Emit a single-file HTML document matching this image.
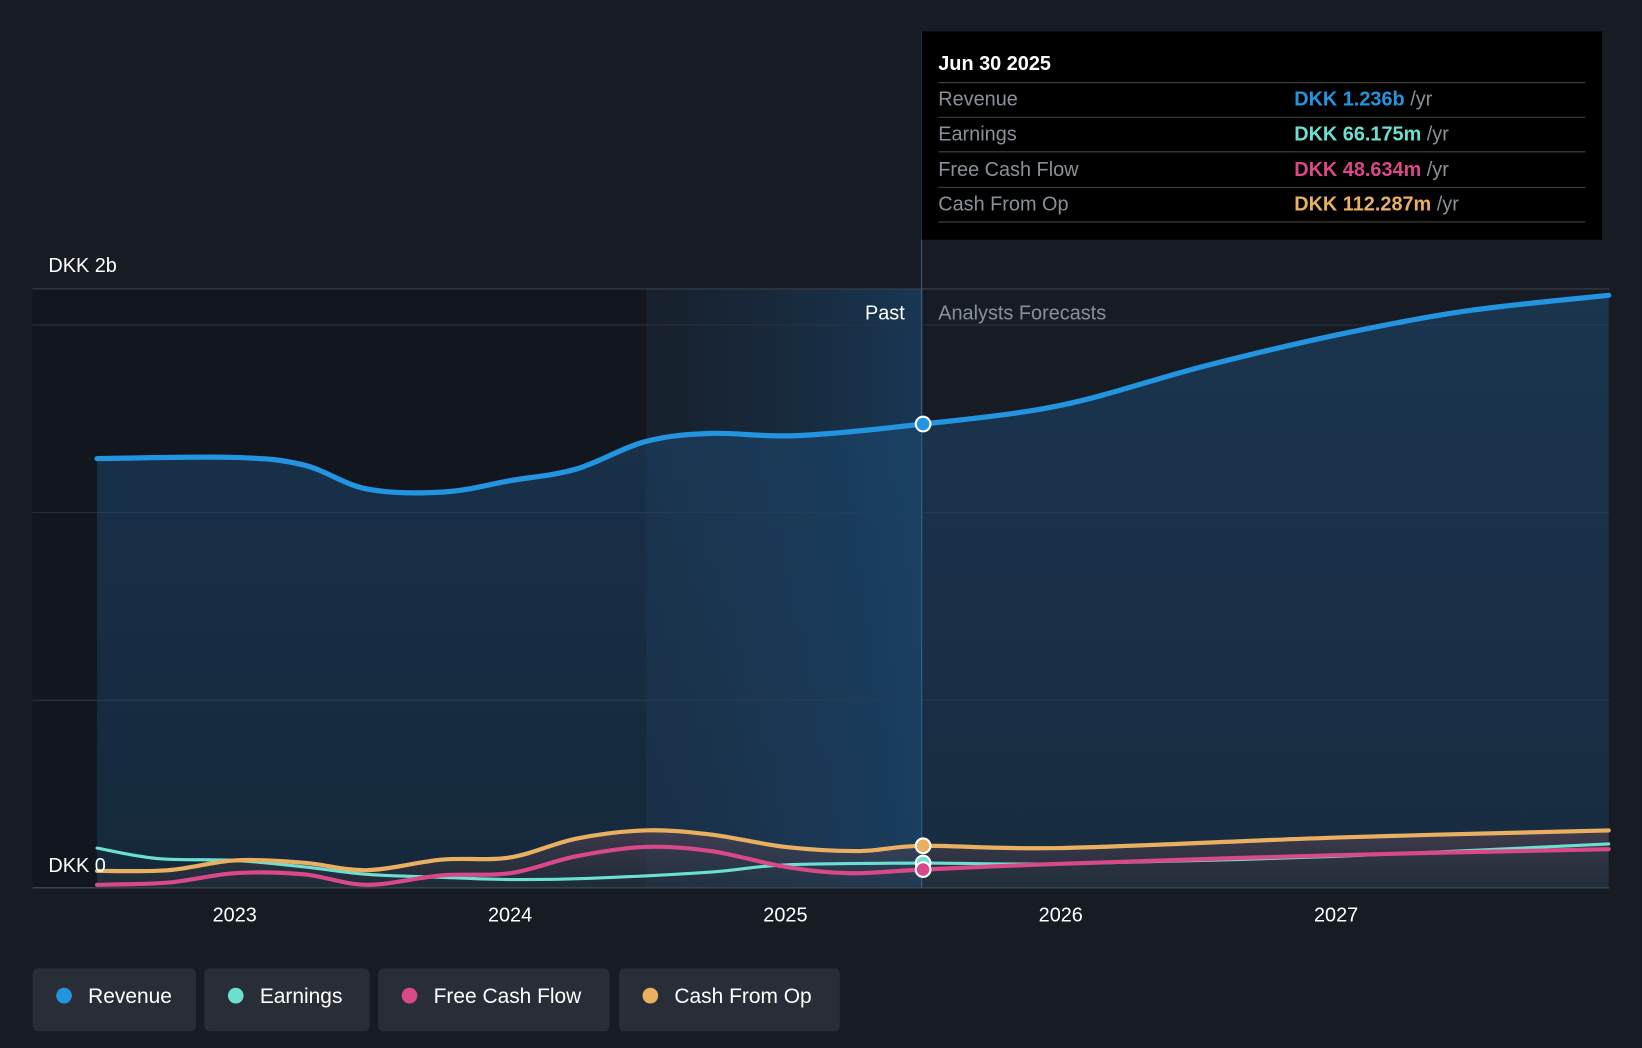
<!DOCTYPE html>
<html><head><meta charset="utf-8"><style>
html,body{margin:0;padding:0;background:#161b24;}
svg{display:block;font-family:"Liberation Sans",sans-serif;}
</style></head><body>
<svg id="chart" width="1642" height="1048" viewBox="0 0 1568 1001">
<defs>
<linearGradient id="revFill" x1="0" y1="0" x2="0" y2="1"><stop offset="0" stop-color="#1d4a72" stop-opacity="0.55"/><stop offset="1" stop-color="#1d4a72" stop-opacity="0.35"/></linearGradient>
<linearGradient id="pastHi" x1="0" y1="0" x2="1" y2="0"><stop offset="0" stop-color="#1a3550" stop-opacity="0.2"/><stop offset="1" stop-color="#1a4a75" stop-opacity="0.6"/></linearGradient>
<linearGradient id="lowFill" x1="0" y1="0" x2="0" y2="1"><stop offset="0" stop-color="#6a4a5a" stop-opacity="0.5"/><stop offset="1" stop-color="#333" stop-opacity="0.3"/></linearGradient>
</defs>
<rect width="1568" height="1001" fill="#161b24"/>
<rect x="31" y="276" width="586" height="572" fill="#12161e"/>
<rect x="617" y="276" width="264" height="572" fill="url(#pastHi)"/>
<g id="grid"></g>
<g id="areas"></g>
<g id="lines"></g>
<line x1="880" y1="30" x2="880" y2="848" stroke="#3a5a78" stroke-width="1"/>
<text x="864" y="305" fill="#fff" font-size="19" text-anchor="end">Past</text>
<text x="896" y="305" fill="#8a9099" font-size="19">Analysts Forecasts</text>
<text x="46" y="260" fill="#fff" font-size="19">DKK 2b</text>
<text x="46" y="833" fill="#fff" font-size="19">DKK 0</text>
<g id="xticks"></g>
<g id="dots"></g>
<g>
<rect x="880" y="30" width="650" height="199" fill="#000"/>
<text x="896" y="67" fill="#fff" font-size="19" font-weight="bold">Jun 30 2025</text>
<line x1="896" y1="79" x2="1514" y2="79" stroke="#444"/>
<text x="896" y="101" fill="#8a9099" font-size="19">Revenue</text>
<text x="1236" y="101" font-size="19"><tspan fill="#2394df" font-weight="bold">DKK 1.236b</tspan><tspan fill="#8a9099"> /yr</tspan></text>
<line x1="896" y1="112" x2="1514" y2="112" stroke="#444"/>
<text x="896" y="134" fill="#8a9099" font-size="19">Earnings</text>
<text x="1236" y="134" font-size="19"><tspan fill="#6be0d0" font-weight="bold">DKK 66.175m</tspan><tspan fill="#8a9099"> /yr</tspan></text>
<line x1="896" y1="145" x2="1514" y2="145" stroke="#444"/>
<text x="896" y="168" fill="#8a9099" font-size="19">Free Cash Flow</text>
<text x="1236" y="168" font-size="19"><tspan fill="#d9498a" font-weight="bold">DKK 48.634m</tspan><tspan fill="#8a9099"> /yr</tspan></text>
<line x1="896" y1="179" x2="1514" y2="179" stroke="#444"/>
<text x="896" y="201" fill="#8a9099" font-size="19">Cash From Op</text>
<text x="1236" y="201" font-size="19"><tspan fill="#e8b060" font-weight="bold">DKK 112.287m</tspan><tspan fill="#8a9099"> /yr</tspan></text>
<line x1="896" y1="212" x2="1514" y2="212" stroke="#444"/>
</g>
<g id="legend"></g>
</svg>
<script>
const revYears=[2022.5,2023,2023.25,2023.48,2023.76,2024,2024.24,2024.49,2024.73,2025.04,2025.5,2026,2026.52,2027,2027.47,2027.99];
const revVals=[1.144,1.147,1.127,1.063,1.055,1.085,1.116,1.189,1.211,1.205,1.236,1.286,1.39,1.473,1.537,1.579];
const earnYears=[2022.5,2022.72,2023,2023.25,2023.48,2023.75,2024,2024.28,2024.73,2025,2025.5,2026,2027,2027.99];
const earnVals=[0.106,0.078,0.073,0.056,0.036,0.028,0.022,0.025,0.042,0.061,0.066,0.064,0.084,0.117];
const fcfYears=[2022.5,2022.76,2023,2023.25,2023.48,2023.75,2024,2024.24,2024.49,2024.73,2025,2025.23,2025.5,2026,2027,2027.99];
const fcfVals=[0.008,0.014,0.039,0.036,0.008,0.033,0.039,0.084,0.109,0.098,0.056,0.039,0.0486,0.064,0.087,0.103];
const cfoYears=[2022.5,2022.76,2023,2023.25,2023.48,2023.75,2024,2024.24,2024.49,2024.73,2025,2025.27,2025.5,2026,2027,2027.99];
const cfoVals=[0.045,0.047,0.073,0.067,0.047,0.075,0.081,0.131,0.153,0.142,0.109,0.098,0.112,0.106,0.134,0.153];
const xTicks=[2023,2024,2025,2026,2027];
const gridVals=[0.5,1,1.5];
const NS='http://www.w3.org/2000/svg';
const X=y=>224+(y-2023)*263;
const Y=v=>848-v*358.4;
function el(t,a,p){const e=document.createElementNS(NS,t);for(const k in a)e.setAttribute(k,a[k]);document.getElementById(p).appendChild(e);return e;}
function path(xs,vs){const p=xs.map((x,i)=>[X(x),Y(vs[i])]);let d='M'+p[0][0]+','+p[0][1];
for(let i=0;i<p.length-1;i++){const p0=p[i-1]||p[i],p1=p[i],p2=p[i+1],p3=p[i+2]||p2;
d+=' C'+(p1[0]+(p2[0]-p0[0])/6)+','+(p1[1]+(p2[1]-p0[1])/6)+' '+(p2[0]-(p3[0]-p1[0])/6)+','+(p2[1]-(p3[1]-p1[1])/6)+' '+p2[0]+','+p2[1];}return d;}
el('line',{x1:31,y1:276,x2:1537,y2:276,stroke:'#3a3f48'},'grid');
gridVals.forEach(v=>{const g=el('line',{x1:31,y1:Y(v),x2:1537,y2:Y(v),stroke:'#2c323c'},'grid');

});
el('line',{x1:31,y1:848,x2:1537,y2:848,stroke:'#4a505a'},'grid');
xTicks.forEach(t=>{const tx=el('text',{x:X(t),y:880,fill:'#fff','font-size':19,'text-anchor':'middle'},'xticks');tx.textContent=t;

});
const rd=path(revYears,revVals);
const ra=el('path',{d:rd+' L'+X(revYears[revYears.length-1])+',848 L'+X(revYears[0])+',848 Z',fill:'url(#revFill)'},'areas');


const cd=path(cfoYears,cfoVals);
const ca=el('path',{d:cd+' L'+X(cfoYears[cfoYears.length-1])+',848 L'+X(cfoYears[0])+',848 Z',fill:'url(#lowFill)'},'areas');


const series=[['earnings-line',earnYears,earnVals,'#6be0d0',3],['free-cash-flow-line',fcfYears,fcfVals,'#d9498a',4],['cash-from-op-line',cfoYears,cfoVals,'#e8b060',4],['revenue-line',revYears,revVals,'#2394df',5]];
series.forEach(s=>{const l=el('path',{d:path(s[1],s[2]),fill:'none',stroke:s[3],'stroke-width':s[4],'stroke-linecap':'round'},'lines');

});
[[revYears,revVals,'#2394df'],[earnYears,earnVals,'#6be0d0'],[cfoYears,cfoVals,'#e8b060'],[fcfYears,fcfVals,'#d9498a']].forEach(s=>{
const i=s[0].indexOf(2025.5);const c=el('circle',{cx:X(2025.5),cy:Y(s[1][i]),r:7,fill:s[2],stroke:'#fff','stroke-width':2},'dots');

});
const leg=[['Revenue','#2394df',31,156],['Earnings','#6be0d0',195,158],['Free Cash Flow','#d9498a',361,221],['Cash From Op','#e8b060',591,211]];
leg.forEach(l=>{const r=el('rect',{x:l[2],y:925,width:l[3],height:60,rx:5,fill:'#282d37'},'legend');


el('circle',{cx:l[2]+30,cy:951,r:7.5,fill:l[1]},'legend');
const t=el('text',{x:l[2]+53,y:958,fill:'#fff','font-size':20},'legend');t.textContent=l[0];});
</script>
</body></html>
